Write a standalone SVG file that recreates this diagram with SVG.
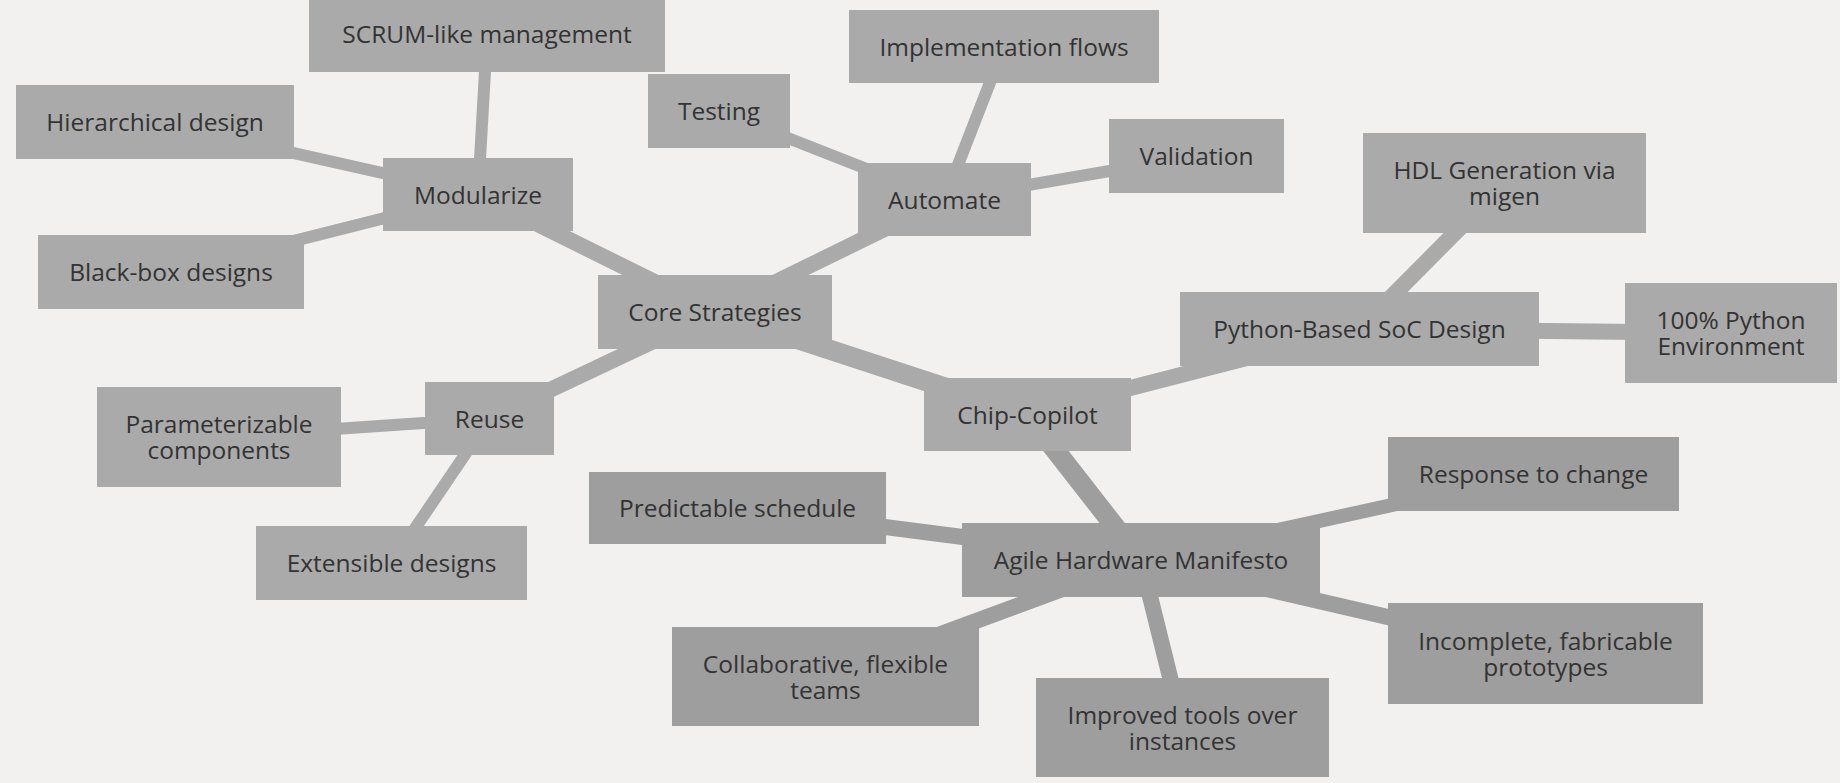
<svg xmlns="http://www.w3.org/2000/svg" width="1840" height="783" viewBox="0 0 1840 783">
<style>
.bg{fill:#f2f1f0}
.n1{fill:#aaaaaa}
.n2{fill:#9e9e9e}
.c1{stroke:#aaaaaa;stroke-linecap:butt;fill:none}
.c2{stroke:#9e9e9e;stroke-linecap:butt;fill:none}
text{font-family:"Open Sans","Noto Sans","Liberation Sans",sans-serif;font-size:24.5px;fill:#333333;text-anchor:middle}
</style>
<rect class="bg" x="0" y="0" width="1840" height="783"/>
<g id="connectors">
<line class="c1" stroke-width="16" x1="715" y1="312" x2="478" y2="194.5"/>
<line class="c1" stroke-width="16" x1="715" y1="312" x2="944.5" y2="199.5"/>
<line class="c1" stroke-width="16" x1="715" y1="312" x2="489.5" y2="418.5"/>
<line class="c1" stroke-width="20" x1="715" y1="312" x2="1027.5" y2="414.5"/>
<line class="c1" stroke-width="12" x1="478" y1="194.5" x2="487" y2="36"/>
<line class="c1" stroke-width="12" x1="478" y1="194.5" x2="155" y2="122"/>
<line class="c1" stroke-width="12" x1="478" y1="194.5" x2="171" y2="272"/>
<line class="c1" stroke-width="12" x1="944.5" y1="199.5" x2="719" y2="111"/>
<line class="c1" stroke-width="12" x1="944.5" y1="199.5" x2="1004" y2="46.5"/>
<line class="c1" stroke-width="12" x1="944.5" y1="199.5" x2="1196.5" y2="156"/>
<line class="c1" stroke-width="12" x1="489.5" y1="418.5" x2="219" y2="437"/>
<line class="c1" stroke-width="12" x1="489.5" y1="418.5" x2="391.5" y2="563"/>
<line class="c1" stroke-width="16" x1="1027.5" y1="414.5" x2="1359.5" y2="329"/>
<line class="c1" stroke-width="16" x1="1359.5" y1="329" x2="1504.5" y2="183"/>
<line class="c1" stroke-width="16" x1="1359.5" y1="329" x2="1731" y2="333"/>
<line class="c2" stroke-width="20" x1="1027.5" y1="414.5" x2="1141" y2="560"/>
<line class="c2" stroke-width="16" x1="1141" y1="560" x2="737.5" y2="508"/>
<line class="c2" stroke-width="16" x1="1141" y1="560" x2="825.5" y2="676.5"/>
<line class="c2" stroke-width="16" x1="1141" y1="560" x2="1182.5" y2="727.5"/>
<line class="c2" stroke-width="14" x1="1141" y1="560" x2="1533.5" y2="474"/>
<line class="c2" stroke-width="16" x1="1141" y1="560" x2="1545.5" y2="653.5"/>
</g>
<g id="core"><rect class="n1" x="598" y="275" width="234" height="74"/><text x="715" y="321">Core Strategies</text></g>
<g id="modularize"><rect class="n1" x="383" y="158" width="190" height="73"/><text x="478" y="203.5">Modularize</text></g>
<g id="scrum"><rect class="n1" x="309" y="0" width="356" height="72"/><text x="487" y="43">SCRUM-like management</text></g>
<g id="hierarchical"><rect class="n1" x="16" y="85" width="278" height="74"/><text x="155" y="131">Hierarchical design</text></g>
<g id="blackbox"><rect class="n1" x="38" y="235" width="266" height="74"/><text x="171" y="281">Black-box designs</text></g>
<g id="automate"><rect class="n1" x="858" y="163" width="173" height="73"/><text x="944.5" y="208.5">Automate</text></g>
<g id="testing"><rect class="n1" x="648" y="74" width="142" height="74"/><text x="719" y="120">Testing</text></g>
<g id="implementation"><rect class="n1" x="849" y="10" width="310" height="73"/><text x="1004" y="55.5">Implementation flows</text></g>
<g id="validation"><rect class="n1" x="1109" y="119" width="175" height="74"/><text x="1196.5" y="165">Validation</text></g>
<g id="reuse"><rect class="n1" x="425" y="382" width="129" height="73"/><text x="489.5" y="427.5">Reuse</text></g>
<g id="parameterizable"><rect class="n1" x="97" y="387" width="244" height="100"/><text x="219" y="433">Parameterizable</text><text x="219" y="459">components</text></g>
<g id="extensible"><rect class="n1" x="256" y="526" width="271" height="74"/><text x="391.5" y="572">Extensible designs</text></g>
<g id="chipcopilot"><rect class="n1" x="924" y="378" width="207" height="73"/><text x="1027.5" y="423.5">Chip-Copilot</text></g>
<g id="python"><rect class="n1" x="1180" y="292" width="359" height="74"/><text x="1359.5" y="338">Python-Based SoC Design</text></g>
<g id="hdl"><rect class="n1" x="1363" y="133" width="283" height="100"/><text x="1504.5" y="179">HDL Generation via</text><text x="1504.5" y="205">migen</text></g>
<g id="python100"><rect class="n1" x="1625" y="283" width="212" height="100"/><text x="1731" y="329">100% Python</text><text x="1731" y="355">Environment</text></g>
<g id="agile"><rect class="n2" x="962" y="523" width="358" height="74"/><text x="1141" y="569">Agile Hardware Manifesto</text></g>
<g id="predictable"><rect class="n2" x="589" y="472" width="297" height="72"/><text x="737.5" y="517">Predictable schedule</text></g>
<g id="collaborative"><rect class="n2" x="672" y="627" width="307" height="99"/><text x="825.5" y="672.5">Collaborative, flexible</text><text x="825.5" y="698.5">teams</text></g>
<g id="improved"><rect class="n2" x="1036" y="678" width="293" height="99"/><text x="1182.5" y="723.5">Improved tools over</text><text x="1182.5" y="749.5">instances</text></g>
<g id="response"><rect class="n2" x="1388" y="437" width="291" height="74"/><text x="1533.5" y="483">Response to change</text></g>
<g id="incomplete"><rect class="n2" x="1388" y="603" width="315" height="101"/><text x="1545.5" y="649.5">Incomplete, fabricable</text><text x="1545.5" y="675.5">prototypes</text></g>
</svg>
